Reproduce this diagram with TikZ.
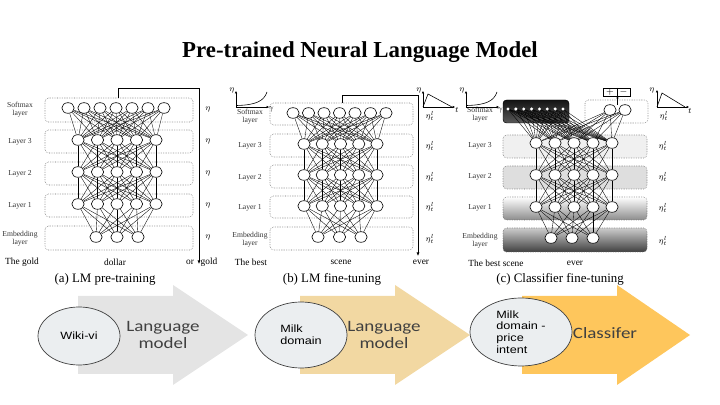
\documentclass[tikz,border=0pt]{standalone}
\usepackage{fontspec}
\setmainfont{Liberation Serif}
\newfontfamily\stagefont[FakeStretch=1.2]{Carlito}
\newfontfamily\bubblefont[FakeStretch=1.2]{Liberation Sans}
\usetikzlibrary{arrows.meta,shapes.geometric}

\definecolor{bubblefill}{HTML}{EBEEF0}
\definecolor{stagegray}{HTML}{E4E4E4}
\definecolor{stagetan}{HTML}{F2D8A2}
\definecolor{stagegold}{HTML}{FEC65C}

\tikzset{
  neuron/.style={ellipse, draw, fill=white, inner sep=0pt, minimum width=0.37cm, minimum height=0.32cm, line width=0.5pt},
  smalldot/.style={circle, fill=white, inner sep=0pt, minimum size=0.1cm},
  wire/.style={line width=0.3pt},
  layerbox/.style={draw=black!60, densely dotted, line width=0.45pt, rounded corners=3pt},
  lyr/.style={font=\fontsize{6.5}{7}\selectfont, align=center, text=black!80},
  word/.style={font=\fontsize{8}{8}\selectfont},
  capt/.style={font=\fontsize{11}{11}\selectfont},
  rate/.style={font=\fontsize{7}{7}\selectfont, inner sep=1pt},
  flow/.style={-{Latex[length=3pt,width=2.5pt]}, line width=0.5pt},
  axis/.style={-{Latex[length=2pt,width=2pt]}, line width=0.5pt},
  bubble/.style={ellipse, draw=black!75, fill=bubblefill, line width=0.6pt, font=\bubblefont\fontsize{9}{10}\selectfont, align=left, inner sep=0pt},
  stage/.style={font=\stagefont\fontsize{13.5}{15}\selectfont, text=black!75, align=center}
}

\begin{document}
\begin{tikzpicture}[x=0.03cm, y=-0.03cm]
\useasboundingbox (0,0) rectangle (720,405);

% Title
\node[font=\bfseries\fontsize{19.5}{20}\selectfont] (title) at (360,52) {Pre-trained Neural Language Model};

% ---------- (a) LM pre-training ----------
\foreach \t/\b in {98/122,130/153,162/185,194/217,226/250}
  \draw[layerbox] (45,\t) rectangle (193,\b);

\node[lyr] (a-ls) at (20,110) {Softmax\\layer};
\node[lyr] (a-l3) at (20,142) {Layer 3};
\node[lyr] (a-l2) at (20,174) {Layer 2};
\node[lyr] (a-l1) at (20,206) {Layer 1};
\node[lyr] (a-le) at (20,239) {Embedding\\layer};

\foreach \k in {1,...,7} \node[neuron] (a-s-\k) at ({68+16*(\k-1)},108) {};
\foreach \k in {1,...,5} {
  \node[neuron] (a-3-\k) at ({78+19.5*(\k-1)},140) {};
  \node[neuron] (a-2-\k) at ({78+19.5*(\k-1)},172) {};
  \node[neuron] (a-1-\k) at ({78+19.5*(\k-1)},204) {};
}
\foreach \k in {1,...,3} \node[neuron] (a-e-\k) at ({96+21*(\k-1)},237) {};

\coordinate (a-top) at (118,98);
\coordinate (a-turn) at (199,88);
\coordinate (a-end) at (199,264);
\draw[flow] (a-top) |- (a-turn) -- (a-end);

\foreach \y [count=\n] in {110,142,174,206,238}
  \node[rate] (a-eta-\n) at (208,\y) {$\eta$};

\node[word] (a-w1) at (22,262) {The gold};
\node[word] (a-w2) at (115,262) {dollar};
\node[word] (a-w3) at (190,262) {or};
\node[word] (a-w4) at (209,262) {gold};
\node[capt] (a-cap) at (105,279) {(a) LM pre-training};

% ---------- (b) LM fine-tuning ----------
\foreach \t/\b in {103/125,134/157,165/188,196/218,227/250}
  \draw[layerbox] (270,\t) rectangle (413,\b);

\node[lyr] (b-ls) at (250,117) {Softmax\\layer};
\node[lyr] (b-l3) at (250,146) {Layer 3};
\node[lyr] (b-l2) at (250,178) {Layer 2};
\node[lyr] (b-l1) at (250,208) {Layer 1};
\node[lyr] (b-le) at (250,240) {Embedding\\layer};

\foreach \k in {1,...,7} \node[neuron] (b-s-\k) at ({293+15.5*(\k-1)},113) {};
\foreach \k in {1,...,5} {
  \node[neuron] (b-3-\k) at ({304+18.25*(\k-1)},144) {};
  \node[neuron] (b-2-\k) at ({304+18.25*(\k-1)},175) {};
  \node[neuron] (b-1-\k) at ({304+18.25*(\k-1)},206) {};
}
\foreach \k in {1,...,3} \node[neuron] (b-e-\k) at ({318+21.5*(\k-1)},237) {};

\coordinate (b-top) at (342,103);
\coordinate (b-turn) at (418,95);
\coordinate (b-end) at (418,256);
\draw[flow] (b-top) |- (b-turn) -- (b-end);

% small plots
\coordinate (b-o1) at (236,107);
\draw[axis] (b-o1) -- (236,91);
\draw[axis] (b-o1) -- (269,107);
\draw[line width=0.5pt] (237,105.5) .. controls (256,105) and (264,101) .. (267,92);
\node[rate] (b-p1y) at (232,91) {$\eta$};
\node[rate] (b-p1x) at (271,110) {$\gamma$};

\coordinate (b-o2) at (423,107);
\draw[axis] (b-o2) -- (423,91);
\draw[axis] (b-o2) -- (455,107);
\draw[line width=0.5pt] (b-o2) -- (428,94) -- (452,107);
\node[rate] (b-p2y) at (419,91) {$\eta$};
\node[rate] (b-p2x) at (457,110) {$t$};
\node[rate] (b-eta-0) at (430,116) {$\eta_t^l$};

\foreach \y [count=\n] in {146,177,207,239}
  \node[rate] (b-eta-\n) at (430,\y) {$\eta_t^l$};

\node[word] (b-w1) at (251,262) {The best};
\node[word] (b-w2) at (341,262) {scene};
\node[word] (b-w3) at (421,262) {ever};
\node[capt] (b-cap) at (332,279) {(b) LM fine-tuning};

% ---------- (c) Classifier fine-tuning ----------
\draw[layerbox, fill=black!6] (503,135) rectangle (647,158);
\draw[layerbox, fill=black!13] (503,166) rectangle (647,189);
\draw[layerbox, top color=white, bottom color=black!45] (503,197) rectangle (647,220);
\draw[layerbox, top color=black!20, bottom color=black!75] (503,228) rectangle (647,252);
\draw[rounded corners=3pt, top color=black!92, bottom color=black!65] (503,100) rectangle (569,123);
\draw[layerbox] (585,100) rectangle (648,123);

\node[lyr] (c-ls) at (480,115) {Softmax\\layer};
\node[lyr] (c-l3) at (480,146) {Layer 3};
\node[lyr] (c-l2) at (480,177) {Layer 2};
\node[lyr] (c-l1) at (480,208) {Layer 1};
\node[lyr] (c-le) at (480,241) {Embedding\\layer};

\foreach \k in {1,...,8} \node[smalldot] (c-s-\k) at ({508+7.86*(\k-1)},109) {};
\node[neuron] (c-c-1) at (610,110) {};
\node[neuron] (c-c-2) at (625,110) {};
\foreach \k in {1,...,5} {
  \node[neuron] (c-3-\k) at ({536+19*(\k-1)},143) {};
  \node[neuron] (c-2-\k) at ({536+19*(\k-1)},175) {};
  \node[neuron] (c-1-\k) at ({536+19*(\k-1)},207) {};
}
\foreach \k in {1,...,3} \node[neuron] (c-e-\k) at ({551+21*(\k-1)},238) {};

% output +/-
\draw[line width=0.5pt] (603,88) rectangle (630,96);
\draw[line width=0.5pt] (617,88) -- (617,96);
\node[font=\fontsize{8}{8}\selectfont, inner sep=0pt] (c-plus) at (610,92) {$+$};
\node[font=\fontsize{8}{8}\selectfont, inner sep=0pt] (c-minus) at (623.5,92) {$-$};
\coordinate (c-from) at (617.5,105);
\coordinate (c-to) at (617.5,96);
\draw[-{Latex[length=2pt,width=2pt]}, line width=0.5pt] (c-from) -- (c-to);

% small plots
\coordinate (c-o1) at (466,107);
\draw[axis] (c-o1) -- (466,91);
\draw[axis] (c-o1) -- (499,107);
\draw[line width=0.5pt] (467,105.5) .. controls (486,105) and (494,101) .. (497,92);
\node[rate] (c-p1y) at (462,91) {$\eta$};
\node[rate] (c-p1x) at (500,111) {$\gamma$};

\coordinate (c-o2) at (657,107);
\draw[axis] (c-o2) -- (657,90);
\draw[axis] (c-o2) -- (689,107);
\draw[line width=0.5pt] (c-o2) -- (662,93) -- (685,107);
\node[rate] (c-p2y) at (652,91) {$\eta$};
\node[rate] (c-p2x) at (690,111) {$t$};
\node[rate] (c-eta-0) at (664,116) {$\eta_t^l$};

\foreach \y [count=\n] in {146,177,208,241}
  \node[rate] (c-eta-\n) at (663,\y) {$\eta_t^l$};

\node[word] (c-w1) at (496,263) {The best scene};
\node[word] (c-w2) at (575,263) {ever};
\node[capt] (c-cap) at (560,279) {(c) Classifier fine-tuning};

% ---------- wiring ----------
\foreach \p in {a,b,c} {
  \foreach \i in {1,...,5} {
    \foreach \j in {1,...,5} {
      \draw[wire] (\p-2-\i) -- (\p-3-\j);
      \draw[wire] (\p-1-\i) -- (\p-2-\j);
    }
    \foreach \j in {1,...,3} \draw[wire] (\p-e-\j) -- (\p-1-\i);
  }
}
\foreach \i in {1,...,5} {
  \foreach \j in {1,...,7} {
    \draw[wire] (a-3-\i) -- (a-s-\j);
    \draw[wire] (b-3-\i) -- (b-s-\j);
  }
  \foreach \j in {1,...,8} \draw[wire] (c-3-\i) -- (c-s-\j);
  \foreach \j in {1,2} \draw[wire] (c-3-\i) -- (c-c-\j);
}

% ---------- bottom flow ----------
\fill[stagegray] (78,296) -- (173,296) -- (173,285) -- (248,335) -- (173,385) -- (173,374) -- (78,374) -- cycle;
\fill[stagetan] (300,296) -- (395,296) -- (395,285) -- (470,335) -- (395,385) -- (395,374) -- (300,374) -- cycle;
\fill[stagegold] (522,296) -- (617,296) -- (617,285) -- (690,335) -- (617,385) -- (617,374) -- (522,374) -- cycle;

\node[bubble, minimum width=2.46cm, minimum height=1.74cm] (wiki) at (79,336) {Wiki-vi};
\node[bubble, minimum width=2.76cm, minimum height=1.98cm] (milk) at (301,335) {Milk\\domain};
\node[bubble, minimum width=3.06cm, minimum height=2.04cm] (price) at (521,332) {Milk\\domain -\\price\\intent};

\node[stage] (lm1) at (163,335) {Language\\model};
\node[stage] (lm2) at (384,335) {Language\\model};
\node[stage] (clf) at (605,333) {Classifer};
\end{tikzpicture}
\end{document}
